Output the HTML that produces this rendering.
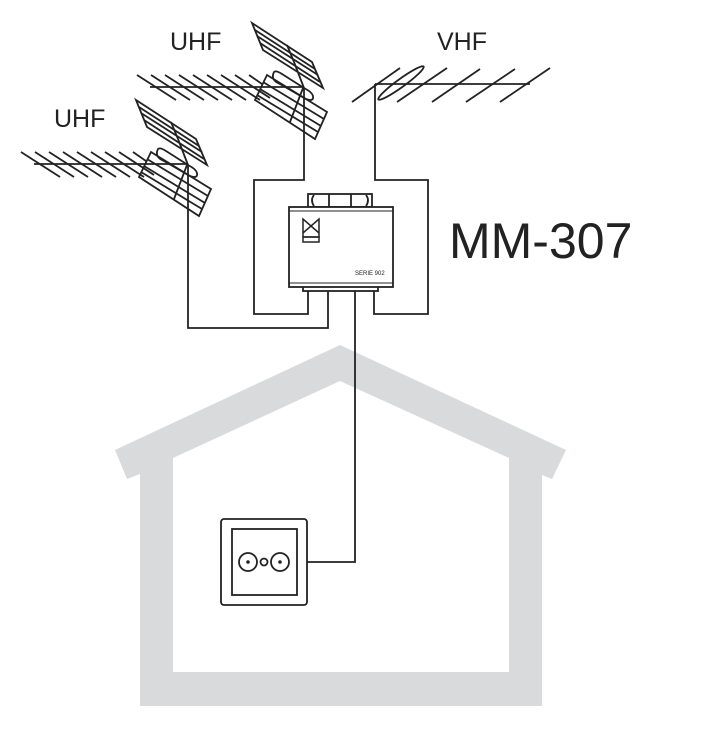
<!DOCTYPE html>
<html><head><meta charset="utf-8"><style>
html,body{margin:0;padding:0;background:#fff;}
svg{display:block;}
text{font-family:"Liberation Sans",sans-serif;fill:#222;}
</style></head><body>
<svg width="716" height="729" viewBox="0 0 716 729" xmlns="http://www.w3.org/2000/svg">
<defs>
<g id="uhf" fill="none" stroke="#222" stroke-width="1.8">
  <line x1="150" y1="87" x2="304" y2="87"/>
  <line x1="137" y1="75" x2="176" y2="100"/>
  <line x1="151" y1="75" x2="190" y2="100"/>
  <line x1="165" y1="75" x2="204" y2="100"/>
  <line x1="179" y1="75" x2="218" y2="100"/>
  <line x1="193" y1="75" x2="232" y2="100"/>
  <line x1="207" y1="75" x2="246" y2="100"/>
  <line x1="221" y1="75" x2="260" y2="100"/>
  <line x1="235" y1="75" x2="270" y2="98"/>
  <line x1="249" y1="75" x2="262" y2="84"/>
  <!-- top panel -->
  <polygon points="252,23 312,62 323,88 263,50"/>
  <line x1="255" y1="30" x2="315" y2="69"/>
  <line x1="257" y1="36" x2="318" y2="75"/>
  <line x1="260" y1="43" x2="320" y2="82"/>
  <line x1="287" y1="45" x2="294" y2="62"/>
  <line x1="294" y1="62" x2="304" y2="88"/>
  <!-- box -->
  <polygon points="267,75 327,112 315,139 255,100"/>
  <line x1="263" y1="82" x2="324" y2="119"/>
  <line x1="260" y1="89" x2="321" y2="126"/>
  <line x1="257" y1="95" x2="318" y2="132"/>
  <line x1="303" y1="88" x2="290" y2="122"/>
  <path d="M274,72 Q270,80 280,84 L306,99 Q314,102 313,96 Q312,92 304,88 L282,74 Q276,70 274,72 Z"/>
</g>
</defs>

<!-- house -->
<path fill="#d9dadb" fill-rule="evenodd" d="M140,706 L140,474 L127,479 L115,450 L340,345 L566,450 L552,479 L542,475 L542,706 Z M173,672 L173,458 L340,381 L509,458 L509,672 Z"/>

<!-- antennas -->
<use href="#uhf"/>
<use href="#uhf" transform="translate(-116,77)"/>

<!-- VHF -->
<g fill="none" stroke="#222" stroke-width="1.8">
  <line x1="375" y1="84" x2="530" y2="84"/>
  <line x1="352" y1="102" x2="400" y2="68"/>
  <line x1="397" y1="102" x2="447" y2="68"/>
  <line x1="432" y1="102" x2="480" y2="69"/>
  <line x1="466" y1="102" x2="515" y2="69"/>
  <line x1="500" y1="102" x2="550" y2="68"/>
  <ellipse cx="401" cy="83" rx="28" ry="4" transform="rotate(-36 401 83)"/>
</g>

<!-- wires -->
<g fill="none" stroke="#222" stroke-width="1.8">
  <polyline points="304,88 304,180 254,180 254,314 308,314 308,291"/>
  <polyline points="375,84 375,180 428,180 428,314 374,314 374,291"/>
  <polyline points="188,165 188,328 328,328 328,291"/>
  <polyline points="355,291 355,562 307,562"/>
</g>

<!-- amplifier -->
<g fill="#fff" stroke="#222" stroke-width="1.8">
  <rect x="308" y="194" width="64" height="13"/>
  <line x1="329" y1="194" x2="329" y2="207"/>
  <line x1="351" y1="194" x2="351" y2="207"/>
  <path d="M314,195 Q310,200 314,206" fill="none"/>
  <path d="M366,195 Q370,200 366,206" fill="none"/>
  <rect x="303" y="283" width="75" height="8"/>
  <rect x="289" y="207" width="104" height="80"/>
  <line x1="289" y1="211" x2="393" y2="211" stroke-width="1"/>
  <line x1="289" y1="283" x2="393" y2="283" stroke-width="1"/>
</g>
<g fill="none" stroke="#222" stroke-width="1.5">
  <polyline points="303,219 303,237 319,237 319,219 303,233 303,219 319,233"/>
  <rect x="303" y="237" width="16" height="5"/>
</g>
<text x="355" y="275" font-size="6">SERIE 902</text>

<!-- socket -->
<g fill="#fff" stroke="#222" stroke-width="1.8">
  <rect x="221" y="519" width="86" height="86" rx="3"/>
  <rect x="232" y="529" width="65" height="66"/>
  <circle cx="248" cy="562" r="9"/>
  <circle cx="280" cy="562" r="9"/>
  <circle cx="264" cy="562" r="3.5"/>
</g>
<circle cx="248" cy="562" r="1.8" fill="#222"/>
<circle cx="280" cy="562" r="1.8" fill="#222"/>

<!-- labels -->
<text x="170" y="50" font-size="25">UHF</text>
<text x="54" y="127" font-size="25">UHF</text>
<text x="437" y="50" font-size="25">VHF</text>
<text x="449" y="258" font-size="50">MM-307</text>
</svg>
</body></html>
